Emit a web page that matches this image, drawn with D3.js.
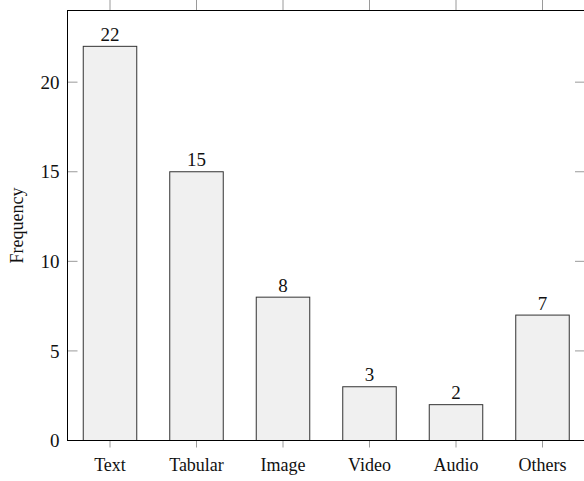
<!DOCTYPE html>
<html><head><meta charset="utf-8">
<script src="https://cdn.jsdelivr.net/npm/d3@7"></script>
<style>body{margin:0;background:#fff}svg{display:block}text{font-family:"Liberation Serif","Times New Roman",serif;fill:#111}</style>
</head><body><svg id="c" width="584" height="481"></svg>
<script>
const categories = ["Text","Tabular","Image","Video","Audio","Others"];
const values = [22,15,8,3,2,7];
const yTicks = [0,5,10,15,20];
const yLabel = "Frequency";

const svg = d3.select("#c");
const L = 67.5, R = 585, T = 10.5, B = 440.5;
const x = d3.scalePoint().domain(categories).range([110, 542.5]);
const y = d3.scaleLinear().domain([0,24]).range([B, T]);
const bw = 53.5;
const tickCol = "#9a9a9a";

svg.selectAll("rect.bar").data(categories).enter().append("rect")
  .attr("x", d => x(d) - bw/2).attr("width", bw)
  .attr("y", (d,i) => y(values[i])).attr("height", (d,i) => B - y(values[i]))
  .attr("fill", "#f0f0f0").attr("stroke", "#333").attr("stroke-width", 1);

svg.selectAll("text.val").data(categories).enter().append("text")
  .attr("x", d => x(d)).attr("y", (d,i) => y(values[i]) - 5.5)
  .attr("text-anchor","middle").attr("font-size", 19).text((d,i) => values[i]);

yTicks.forEach(t => {
  svg.append("line").attr("x1", L).attr("x2", L+10).attr("y1", y(t)).attr("y2", y(t)).attr("stroke", tickCol);
  svg.append("line").attr("x1", R-10).attr("x2", R).attr("y1", y(t)).attr("y2", y(t)).attr("stroke", tickCol);
  svg.append("text").attr("x", L-8).attr("y", y(t)).attr("dy","0.35em").attr("text-anchor","end").attr("font-size", 19).text(t);
});
categories.forEach(c => {
  svg.append("line").attr("x1", x(c)).attr("x2", x(c)).attr("y1", 0).attr("y2", T).attr("stroke", tickCol);
  svg.append("line").attr("x1", x(c)).attr("x2", x(c)).attr("y1", B).attr("y2", B+7).attr("stroke", tickCol);
  svg.append("text").attr("x", x(c)).attr("y", 471).attr("text-anchor","middle").attr("font-size", 18).text(c);
});

svg.append("rect").attr("x", L).attr("y", T).attr("width", R-L).attr("height", B-T)
  .attr("fill","none").attr("stroke","#000").attr("stroke-width",1);

svg.append("text").attr("transform", `translate(23,${(T+B)/2}) rotate(-90)`)
  .attr("text-anchor","middle").attr("font-size", 18).text(yLabel);
</script></body></html>
